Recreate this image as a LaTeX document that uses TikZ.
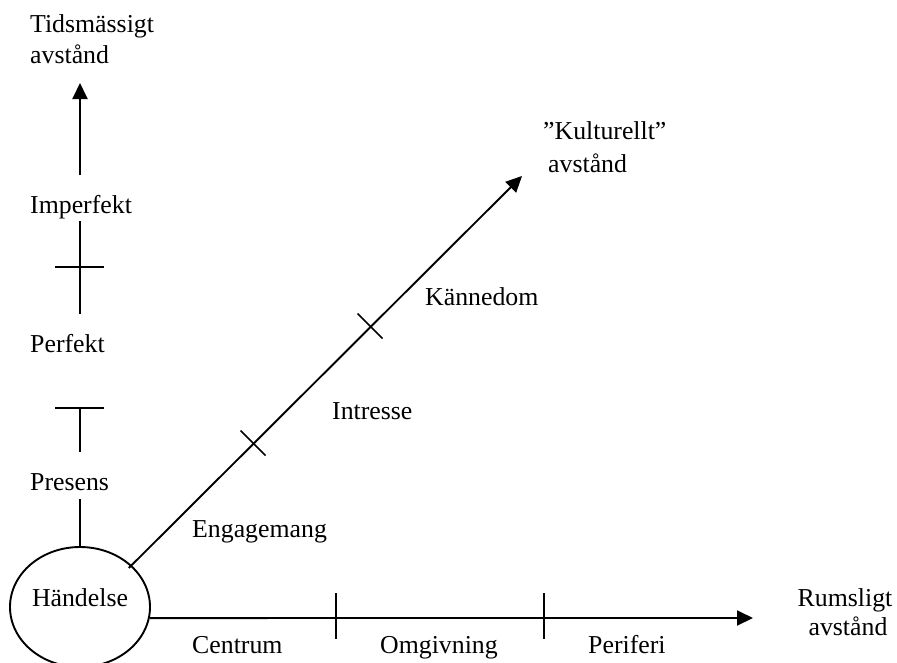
\documentclass[tikz,border=0pt]{standalone}
\usepackage{fontspec}
\setmainfont{Liberation Serif}
\usetikzlibrary{arrows.meta,shapes.geometric}
\begin{document}
\begin{tikzpicture}[x=1pt,y=-1pt,
  axis/.style={line width=1.9pt},
  tick/.style={line width=1.6pt},
  arr/.style={line width=1.9pt,-{Triangle[length=16pt,width=15pt]}},
  lbl/.style={inner sep=0pt,anchor=base west,font=\fontsize{25.8}{30}\selectfont},
  lblc/.style={inner sep=0pt,anchor=base,font=\fontsize{25.8}{30}\selectfont}]
\useasboundingbox (0,0) rectangle (897,662);
% central event
\node[draw,line width=1.9pt,ellipse,minimum width=140pt,minimum height=120pt,inner sep=0pt] (ev) at (80,607) {};
\node[lblc] (hand) at (80,606) {Händelse};
% vertical (time) axis
\coordinate (v1) at (80,499);
\coordinate (v2a) at (80,408); \coordinate (v2b) at (80,452);
\coordinate (v2l) at (55,408); \coordinate (v2r) at (104,408);
\coordinate (v3a) at (80,221); \coordinate (v3b) at (80,314);
\coordinate (v3l) at (55,267); \coordinate (v3r) at (104,267);
\coordinate (v4a) at (80,175); \coordinate (v4b) at (80,83);
\draw[axis] (ev.north) -- (v1);
\draw[axis] (v2b) -- (v2a);
\draw[tick] (v2l) -- (v2r);
\draw[axis] (v3a) -- (v3b);
\draw[tick] (v3l) -- (v3r);
\draw[arr] (v4a) -- (v4b);
\node[lbl] (pres) at (30,490) {Presens};
\node[lbl] (perf) at (30,352) {Perfekt};
\node[lbl] (imp) at (30,213) {Imperfekt};
\node[lbl] (tid1) at (30,32) {Tidsmässigt};
\node[lbl] (tid2) at (30,63) {avstånd};
% horizontal (space) axis
\coordinate (hend) at (753,618);
\draw[arr] (ev.-9) -- (hend);
\coordinate (h1a) at (336,593); \coordinate (h1b) at (336,639);
\coordinate (h2a) at (544,593); \coordinate (h2b) at (544,639);
\draw[tick] (h1a) -- (h1b);
\draw[tick] (h2a) -- (h2b);
\node[lbl] (cen) at (192,653) {Centrum};
\node[lbl] (omg) at (380,653) {Omgivning};
\node[lbl] (per) at (588,653) {Periferi};
\node[lblc] (rum1) at (845,606) {Rumsligt};
\node[lblc] (rum2) at (848,635) {avstånd};
% diagonal (cultural) axis
\coordinate (dend) at (522,176);
\draw[arr,shorten <=-4pt] (ev.39) -- (dend);
\coordinate (d1a) at (240.5,430.5); \coordinate (d1b) at (265.5,455.5);
\coordinate (d2a) at (357.5,313.5); \coordinate (d2b) at (382.5,338.5);
\draw[tick] (d1a) -- (d1b);
\draw[tick] (d2a) -- (d2b);
\node[lbl] (eng) at (192,537) {Engagemang};
\node[lbl] (intr) at (332,419) {Intresse};
\node[lbl] (kan) at (425,305) {Kännedom};
\node[lbl] (kul1) at (543,139) {”Kulturellt”};
\node[lbl] (kul2) at (548,172) {avstånd};
\end{tikzpicture}
\end{document}
